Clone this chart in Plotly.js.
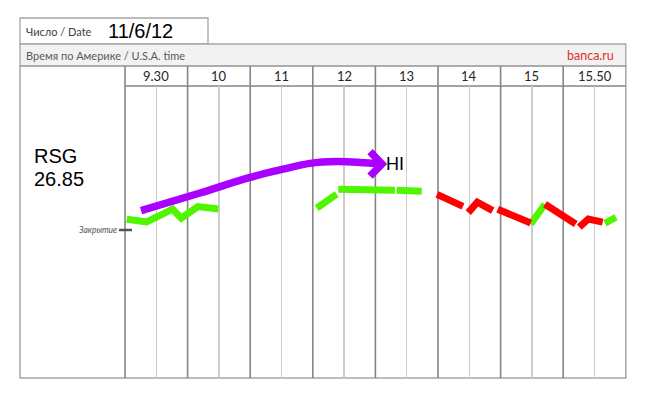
<!DOCTYPE html>
<html>
<head>
<meta charset="utf-8">
<script src="https://cdn.plot.ly/plotly-3.0.1.min.js"></script>
<style>html,body{margin:0;padding:0;background:#fff;}#chart{width:648px;height:397px;}</style>
</head>
<body>
<div id="chart"></div>
<script>
// ---------- data ----------
const ticker = "RSG";
const closePrice = 26.85;
const dateText = "11/6/12";
const timeLabels = ["9.30", "10", "11", "12", "13", "14", "15", "15.50"];

// green (rising) pieces, x in column units, y in price; null separates pieces
const greenX = [0.027, 0.347, 0.759, 0.899, 1.163, 1.490, null,
                3.062, 3.382, null, 3.407, 4.313, null, 4.340, 4.740, null,
                6.481, 6.709, null, 7.668, 7.843];
const greenY = [26.904, 26.890, 26.954, 26.909, 26.967, 26.955, null,
                26.959, 27.029, null, 27.054, 27.049, null, 27.049, 27.044, null,
                26.880, 26.979, null, 26.884, 26.914];

// red (falling) pieces
const redX = [4.984, 5.399, null, 5.484, 5.628, 5.874, null,
              5.954, 6.481, null, 6.709, 7.200, null, 7.257, 7.401, 7.631];
const redY = [27.028, 26.968, null, 26.937, 26.989, 26.947, null,
              26.954, 26.885, null, 26.979, 26.880, null, 26.864, 26.905, 26.889];

// purple trend arrow
const purpleX = [0.256, 1.198, 1.997, 2.524, 2.955, 3.382, 3.754, 4.089];
const purpleY = [26.947, 27.035, 27.113, 27.154, 27.183, 27.192, 27.188, 27.180];
const arrowHeadX = [3.914, 4.105, 3.914];
const arrowHeadY = [27.242, 27.180, 27.119];
const arrowLabel = "HI";

// ---------- layout helpers (page decoration in pixel terms) ----------
const W = 648, H = 397;
const X = px => px / W;
const Y = py => 1 - py / H;
const colLeft = 125, colW = 62.6;
const cx = i => colLeft + i * colW;
const frameGray = "#a6a6a6";
const majorGray = "#858585";

const traces = [
  {x: greenX, y: greenY, mode: "lines", connectgaps: false,
   line: {color: "#50f500", width: 7}, hoverinfo: "skip"},
  {x: redX, y: redY, mode: "lines", connectgaps: false,
   line: {color: "#ff0000", width: 7}, hoverinfo: "skip"},
  {x: purpleX, y: purpleY, mode: "lines",
   line: {color: "#aa00ff", width: 7.5, shape: "spline", smoothing: 1}, hoverinfo: "skip"},
  {x: arrowHeadX, y: arrowHeadY, mode: "lines",
   line: {color: "#aa00ff", width: 7.5}, hoverinfo: "skip"}
];

const shapes = [];
// date box
shapes.push({type: "rect", xref: "paper", yref: "paper", x0: X(20), x1: X(208), y0: Y(18), y1: Y(44),
  line: {color: frameGray, width: 1.3}, fillcolor: "#ffffff", layer: "below"});
// grey band
shapes.push({type: "rect", xref: "paper", yref: "paper", x0: X(20), x1: X(cx(8)), y0: Y(44), y1: Y(66),
  line: {color: frameGray, width: 1.3}, fillcolor: "#f2f2f2", layer: "below"});
// main frame
shapes.push({type: "rect", xref: "paper", yref: "paper", x0: X(20), x1: X(cx(8)), y0: Y(66), y1: Y(378),
  line: {color: frameGray, width: 1.5}, fillcolor: "rgba(0,0,0,0)", layer: "below"});
// header bottom line
shapes.push({type: "line", xref: "paper", yref: "paper", x0: X(cx(0)), x1: X(cx(8)), y0: Y(86), y1: Y(86),
  line: {color: majorGray, width: 1.3}, layer: "below"});
// major column lines
for (let i = 0; i < 8; i++) {
  shapes.push({type: "line", xref: "paper", yref: "paper", x0: X(cx(i)), x1: X(cx(i)), y0: Y(66), y1: Y(378),
    line: {color: majorGray, width: 1.6}, layer: "below"});
}
// close tick
shapes.push({type: "line", xref: "paper", yref: "y", x0: X(119), x1: X(132), y0: closePrice, y1: closePrice,
  line: {color: "#555555", width: 2.5}, layer: "above"});

const annotations = [
  {text: "Число / Date", xref: "paper", yref: "paper", x: X(24), y: Y(31), xanchor: "left", yanchor: "middle",
   showarrow: false, font: {family: "Lato, Noto Sans, sans-serif", size: 11, color: "#404040"}},
  {text: dateText, xref: "paper", yref: "paper", x: X(106), y: Y(31), xanchor: "left", yanchor: "middle",
   showarrow: false, font: {family: "Liberation Sans, Arial, sans-serif", size: 20, color: "#000000"}},
  {text: "Время по Америке / U.S.A. time", xref: "paper", yref: "paper", x: X(24), y: Y(55), xanchor: "left", yanchor: "middle",
   showarrow: false, font: {family: "Lato, Noto Sans, sans-serif", size: 11, color: "#595959"}},
  {text: "banca.ru", xref: "paper", yref: "paper", x: X(616), y: Y(55), xanchor: "right", yanchor: "middle",
   showarrow: false, font: {family: "Lato, Noto Sans, sans-serif", size: 12.5, color: "#e2301c"}},
  {text: ticker, xref: "paper", yref: "paper", x: X(32), y: Y(156), xanchor: "left", yanchor: "middle",
   showarrow: false, font: {family: "Liberation Sans, Arial, sans-serif", size: 20, color: "#000000"}},
  {text: closePrice.toFixed(2), xref: "paper", yref: "paper", x: X(32), y: Y(179), xanchor: "left", yanchor: "middle",
   showarrow: false, font: {family: "Liberation Sans, Arial, sans-serif", size: 20, color: "#000000"}},
  {text: "<i>Закрытие</i>", xref: "paper", yref: "y", x: X(119), y: closePrice, xanchor: "right", yanchor: "middle",
   showarrow: false, font: {family: "Lato, Noto Sans, sans-serif", size: 8.5, color: "#555555"}},
  {text: arrowLabel, xref: "x", yref: "y", x: arrowHeadX[1] + 0.03, y: arrowHeadY[1], xanchor: "left", yanchor: "middle",
   showarrow: false, font: {family: "Liberation Sans, Arial, sans-serif", size: 18, color: "#000000"}}
];
timeLabels.forEach((t, i) => {
  annotations.push({text: t, xref: "x", yref: "paper", x: i + 0.5, y: Y(76), xanchor: "center", yanchor: "middle",
    showarrow: false, font: {family: "Lato, Noto Sans, sans-serif", size: 13, color: "#262626"}});
});

const layout = {
  width: W, height: H,
  margin: {l: 0, r: 0, t: 0, b: 0, pad: 0},
  paper_bgcolor: "#ffffff", plot_bgcolor: "rgba(0,0,0,0)",
  showlegend: false,
  xaxis: {domain: [X(cx(0)), X(cx(8))], range: [0, 8], showticklabels: false, ticks: "",
          showgrid: true, tick0: 0.5, dtick: 1, gridcolor: "#cccccc", gridwidth: 1.5,
          zeroline: false, showline: false, fixedrange: true},
  yaxis: {domain: [Y(378), Y(86)], range: [26.11, 27.57], showticklabels: false, ticks: "",
          showgrid: false, zeroline: false, showline: false, fixedrange: true},
  shapes: shapes,
  annotations: annotations
};

Plotly.newPlot("chart", traces, layout, {staticPlot: true, displayModeBar: false});
</script>
</body>
</html>
